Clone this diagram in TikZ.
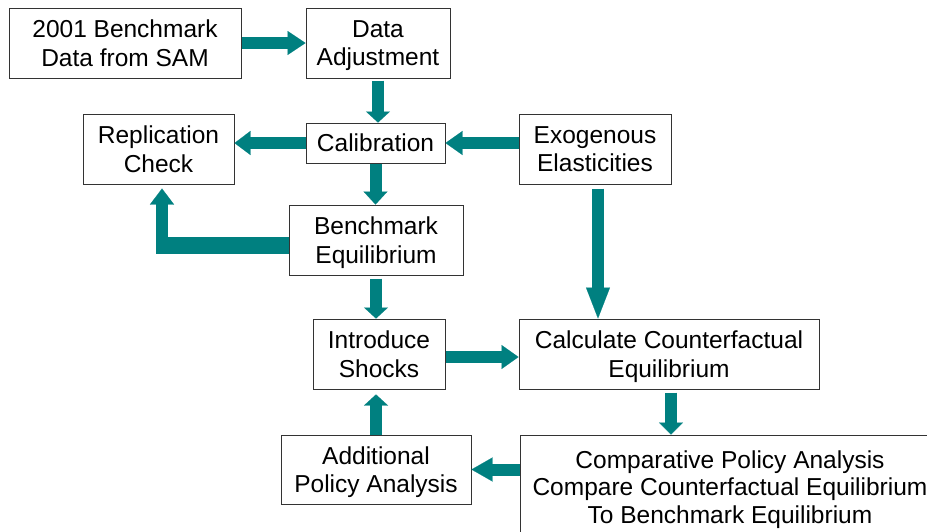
\documentclass[tikz,border=0pt]{standalone}
\usepackage{fontspec}
\setmainfont{Liberation Sans}
\usetikzlibrary{arrows.meta}
\definecolor{arrteal}{RGB}{0,128,128}
\begin{document}
\begin{tikzpicture}[x=1pt,y=-1pt,
  box/.style={draw=black!80, line width=1pt, fill=white, align=center, inner sep=0pt,
    text depth=0pt, font=\fontsize{24.5}{28.3}\selectfont},
  barrow/.style={draw=arrteal, line width=12pt,
    -{Triangle[width=24pt,length=#1,line width=0.1pt]}},
  barrow/.default=17pt]
\useasboundingbox (0,0) rectangle (927,531);
\clip (0,0) rectangle (927,531);
\fill[white] (0,0) rectangle (927,531);

\node[box, minimum width=232pt, minimum height=70pt] (A) at (125,43) {2001 Benchmark\\Data from SAM};
\node[box, minimum width=144pt, minimum height=70pt] (B) at (378,43) {Data\\Adjustment};
\node[box, minimum width=151pt, minimum height=70pt] (R) at (158.5,149) {Replication\\Check};
\node[box, minimum width=139pt, minimum height=40pt] (C) at (375.5,143) {Calibration};
\node[box, minimum width=152pt, minimum height=70pt] (E) at (595,149) {Exogenous\\Elasticities};
\node[box, minimum width=174pt, minimum height=70pt] (BE) at (376,240) {Benchmark\\Equilibrium};
\node[box, minimum width=132pt, minimum height=70pt] (I) at (379,354) {Introduce\\Shocks};
\node[box, minimum width=300pt, minimum height=70pt] (CC) at (669,354) {Calculate Counterfactual\\Equilibrium};
\node[box, minimum width=190pt, minimum height=69pt] (AP) at (376,469.5) {Additional\\Policy Analysis};
\node[box, minimum width=420pt, minimum height=104pt, font=\fontsize{24.5}{27.6}\selectfont] (CP) at (730,487) {Comparative Policy Analysis\\Compare Counterfactual Equilibrium\\To Benchmark Equilibrium};

\draw[barrow=18pt] (A.east) -- (B.west);
\draw[barrow=11pt, shorten <=2pt] (B.south) -- (B.south |- C.north);
\draw[barrow=16pt] (C.west) -- (C.west -| R.east);
\draw[barrow=17pt] (C.east -| E.west) -- (C.east);
\draw[barrow=13pt] (C.south) -- (C.south |- BE.north);
\draw[arrteal, line width=17pt] ([yshift=-5.5pt]BE.west) -- ++(-133,0);
\draw[barrow=16pt] ([yshift=-5.5pt]BE.west) -| ([xshift=3.5pt,yshift=-4pt]R.south);
\draw[barrow=11pt, shorten <=3pt] (BE.south) -- (BE.south |- I.north);
\draw[barrow=31pt, shorten <=4pt] ([xshift=3pt]E.south) -- ([xshift=3pt]E.south |- CC.north);
\draw[barrow=17pt] ([yshift=-3pt]I.east) -- ([yshift=-3pt]I.east -| CC.west);
\draw[barrow=12pt, shorten <=3pt] ([xshift=2pt]CC.south) -- ([xshift=2pt]CC.south |- CP.north);
\draw[barrow=21pt] (CP.west |- AP.east) -- (AP.east);
\draw[barrow=11pt, shorten >=5pt] (AP.north) -- (AP.north |- I.south);
\end{tikzpicture}
\end{document}
